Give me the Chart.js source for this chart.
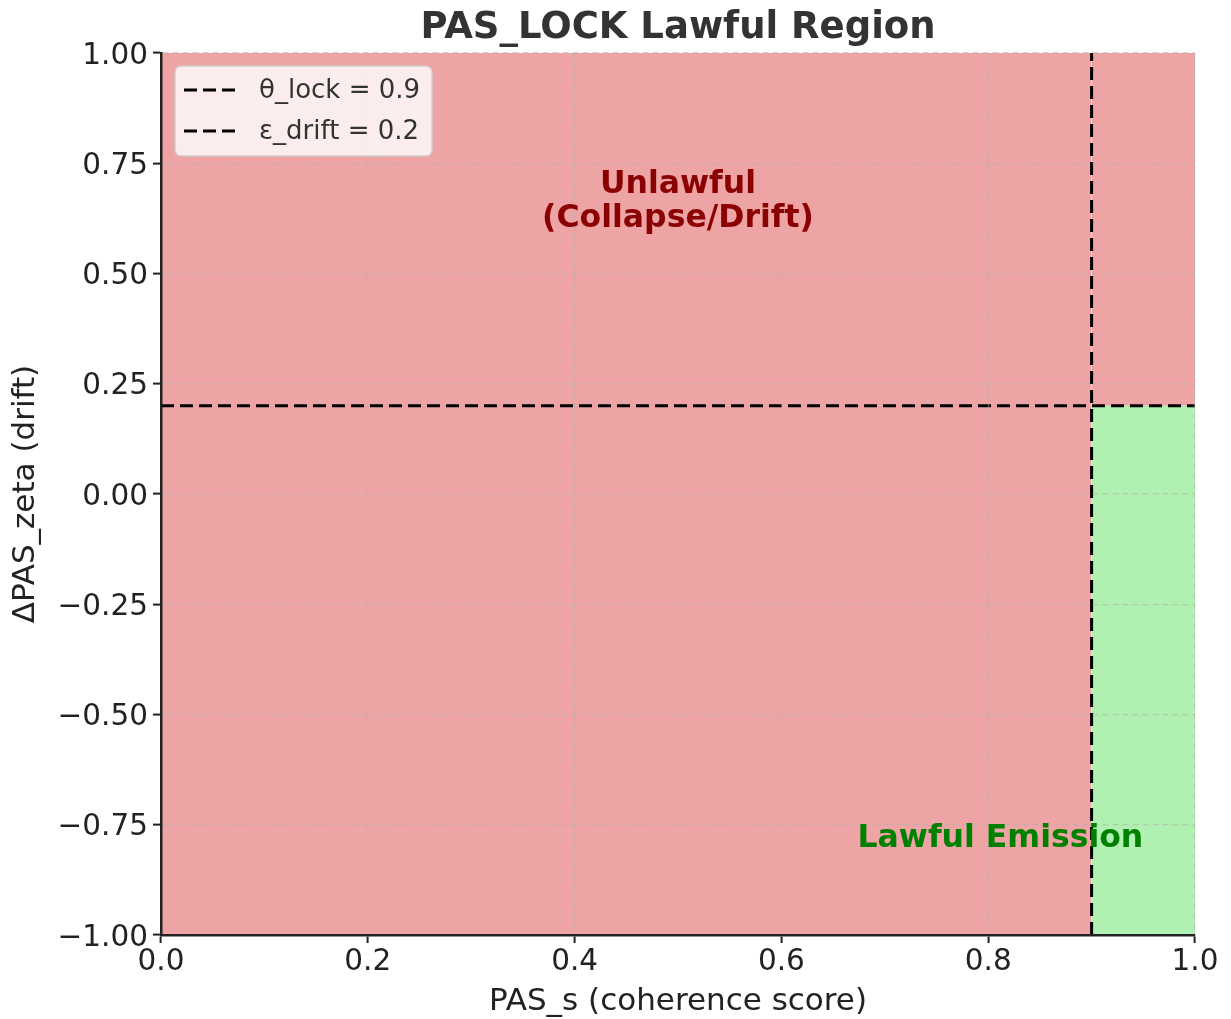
<!DOCTYPE html>
<html>
<head>
<meta charset="utf-8">
<script src="https://cdn.jsdelivr.net/npm/chart.js@4/dist/chart.umd.min.js"></script>
<style>
  html, body { margin: 0; padding: 0; background: #fff; }
  #wrap { width: 1231px; height: 1019px; }
</style>
</head>
<body>
<div id="wrap"><canvas id="regionChart" width="1231" height="1019"></canvas></div>
<script>
// thresholds and ranges
var thetaLock = 0.9;
var epsDrift = 0.2;
var xRange = [0, 1];
var yRange = [-1, 1];
var legendLabels = ['θ_lock = 0.9', 'ε_drift = 0.2'];
var unlawfulText = ['Unlawful', '(Collapse/Drift)'];
var lawfulText = ['Lawful Emission'];

var FONT = "'DejaVu Sans', sans-serif";
var redFill = '#EEA4A4';
var greenFill = '#B0F0B0';

function fmtY(v){
  var s = Math.abs(v).toFixed(2);
  return v < 0 ? '\u2212' + s : s;
}

// texts on the plot and the legend box, drawn after the datasets
var overlayPlugin = {
  id: 'overlay',
  afterDraw: function(chart){
    var ctx = chart.ctx;
    var xs = chart.scales.x, ys = chart.scales.y;
    var area = chart.chartArea;
    ctx.save();

    // region labels
    ctx.font = 'bold 31.5px ' + FONT;
    ctx.fillStyle = '#8B0000';
    ctx.textAlign = 'center';
    ctx.textBaseline = 'alphabetic';
    var ux = xs.getPixelForValue(0.5);
    var uy = ys.getPixelForValue(0.6);
    ctx.fillText(unlawfulText[0], ux, uy - 36);
    ctx.fillText(unlawfulText[1], ux, uy - 2);

    ctx.fillStyle = '#008000';
    ctx.textAlign = 'right';
    ctx.fillText(lawfulText[0], xs.getPixelForValue(0.95), ys.getPixelForValue(-0.8));

    // legend
    var lines = chart.data.datasets.filter(function(d){ return d.showInLegend; });
    ctx.font = '26px ' + FONT;
    var maxW = 0;
    for (var i = 0; i < lines.length; i++){
      maxW = Math.max(maxW, ctx.measureText(lines[i].label).width);
    }
    var bx = area.left + 14, by = area.top + 13;
    var rowH = 41;
    var bw = 9 + 54 + 21 + maxW + 12;
    var bh = 90;
    ctx.beginPath();
    ctx.roundRect(bx, by, bw, bh, 6);
    ctx.fillStyle = 'rgba(255,255,255,0.8)';
    ctx.fill();
    ctx.lineWidth = 1.5;
    ctx.strokeStyle = 'rgba(204,204,204,0.9)';
    ctx.stroke();

    for (var j = 0; j < lines.length; j++){
      var cy = by + 24 + j * rowH;
      ctx.beginPath();
      ctx.setLineDash(lines[j].borderDash);
      ctx.lineWidth = lines[j].borderWidth;
      ctx.strokeStyle = lines[j].borderColor;
      ctx.moveTo(bx + 9, cy);
      ctx.lineTo(bx + 63, cy);
      ctx.stroke();
      ctx.setLineDash([]);
      ctx.fillStyle = '#333';
      ctx.textAlign = 'left';
      ctx.textBaseline = 'middle';
      ctx.fillText(lines[j].label, bx + 84, cy + 1);
    }
    ctx.restore();
  }
};

var ctx = document.getElementById('regionChart');
var regionChart = new Chart(ctx, {
  type: 'scatter',
  data: {
    datasets: [
      {
        label: 'unlawful-left', order: 3,
        data: [{x: xRange[0], y: yRange[1]}, {x: thetaLock, y: yRange[1]}],
        showLine: true, fill: 'start',
        backgroundColor: redFill, borderWidth: 0, pointRadius: 0
      },
      {
        label: 'unlawful-right', order: 3,
        data: [{x: thetaLock, y: epsDrift}, {x: xRange[1], y: epsDrift}],
        showLine: true, fill: 'end',
        backgroundColor: redFill, borderWidth: 0, pointRadius: 0
      },
      {
        label: 'lawful', order: 2,
        data: [{x: thetaLock, y: epsDrift}, {x: xRange[1], y: epsDrift}],
        showLine: true, fill: 'start',
        backgroundColor: greenFill, borderWidth: 0, pointRadius: 0
      },
      {
        label: legendLabels[0], showInLegend: true, order: 0,
        data: [{x: thetaLock, y: yRange[0]}, {x: thetaLock, y: yRange[1]}],
        showLine: true, fill: false,
        borderColor: '#000', borderWidth: 3, borderDash: [13, 6], pointRadius: 0
      },
      {
        label: legendLabels[1], showInLegend: true, order: 0,
        data: [{x: xRange[0], y: epsDrift}, {x: xRange[1], y: epsDrift}],
        showLine: true, fill: false,
        borderColor: '#000', borderWidth: 3, borderDash: [13, 6], pointRadius: 0
      }
    ]
  },
  options: {
    responsive: false,
    animation: false,
    layout: { padding: { left: 0, right: 36, top: 0, bottom: 0 } },
    plugins: {
      legend: { display: false },
      tooltip: { enabled: false },
      title: {
        display: true,
        fullSize: false,
        text: 'PAS_LOCK Lawful Region',
        color: '#333',
        font: { family: FONT, size: 37, weight: 'bold', lineHeight: 1.2 },
        padding: { top: 6, bottom: 2.6 }
      }
    },
    scales: {
      x: {
        type: 'linear', min: xRange[0], max: xRange[1],
        afterFit: function(scale){ scale.height = 84; },
        ticks: {
          stepSize: 0.2, color: '#222', padding: 2,
          font: { family: FONT, size: 29.5 },
          maxRotation: 0,
          callback: function(v){ return v.toFixed(1); }
        },
        grid: {
          z: 1, color: 'rgba(176,176,176,0.55)', lineWidth: 1.2,
          drawTicks: true, tickLength: 8,
          tickColor: '#222', tickWidth: 2, tickBorderDash: []
        },
        border: { display: true, color: '#222', width: 2.5, z: 2, dash: [6, 4] },
        title: {
          display: true, text: 'PAS_s (coherence score)', color: '#222',
          font: { family: FONT, size: 31 }, padding: { top: 0, bottom: -2 }
        }
      },
      y: {
        type: 'linear', min: yRange[0], max: yRange[1],
        afterFit: function(scale){ scale.width = 161; },
        ticks: {
          stepSize: 0.25, color: '#222', padding: 5, labelOffset: 3,
          font: { family: FONT, size: 29.5 },
          callback: function(v){ return fmtY(v); }
        },
        grid: {
          z: 1, color: 'rgba(176,176,176,0.55)', lineWidth: 1.2,
          drawTicks: true, tickLength: 8,
          tickColor: '#222', tickWidth: 2, tickBorderDash: []
        },
        border: { display: true, color: '#222', width: 2.5, z: 2, dash: [6, 4] },
        title: {
          display: true, text: 'ΔPAS_zeta (drift)', color: '#222',
          font: { family: FONT, size: 31 }, padding: { top: 7, bottom: 0 }
        }
      }
    }
  },
  plugins: [overlayPlugin]
});
</script>
</body>
</html>
